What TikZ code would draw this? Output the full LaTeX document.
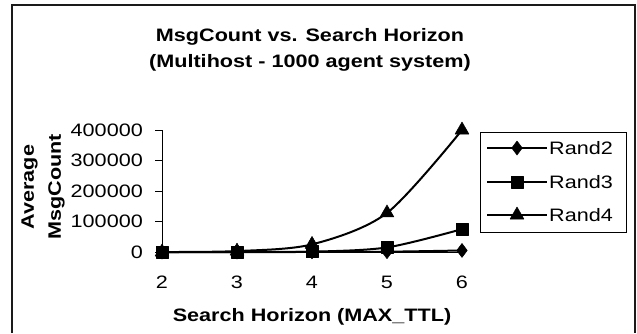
\documentclass[tikz,border=0pt]{standalone}
\usepackage{fontspec}
\setmainfont{Liberation Sans}[FakeStretch=1.2]
\usepackage{xcolor}
\usepackage{tikz}
\usetikzlibrary{plotmarks}
\definecolor{chartInk}{HTML}{000000}
\definecolor{chartFrame}{HTML}{1A1A1A}
\tikzset{
  charttitle/.style={font=\bfseries\fontsize{18}{26}\selectfont,align=center,inner sep=0pt},
  axislabel/.style={font=\bfseries\fontsize{18}{27}\selectfont,align=center,inner sep=0pt},
  ticklabel/.style={font=\fontsize{18}{21}\selectfont,inner sep=0pt},
  legendlabel/.style={font=\fontsize{18}{21}\selectfont,inner sep=0pt,anchor=west},
  series/.style={line width=2pt,draw=chartInk,line join=round},
  axisline/.style={line width=1pt,draw=chartInk},
  markdiamond/.style={mark=diamond*,mark size=7pt,mark options={solid,fill=chartInk,line width=0.5pt}},
  marksquare/.style={mark=square*,mark size=6pt,mark options={solid,fill=chartInk,line width=0.5pt}},
  marktriangle/.style={mark=triangle*,mark size=8pt,mark options={solid,fill=chartInk,line width=0.5pt}}
}

\begin{document}
\begin{tikzpicture}[x=1pt,y=-1pt]
  \useasboundingbox (0,0) rectangle (637,333);
  \draw[line width=1.2pt,draw=chartFrame] (12,333) -- (12,5) -- (635,5) -- (635,333);

  % title
  \node[charttitle] (title) at (310,50) {MsgCount vs. Search Horizon\\(Multihost - 1000 agent system)};

  % axes
  \draw[axisline] (162,130) -- (162,252) -- (461,252);
  \foreach \v/\lab [count=\i] in {0/0,100/100000,200/200000,300/300000,400/400000} {
    \draw[axisline] (155,252-0.305*\v) -- (162,252-0.305*\v);
    \node[ticklabel,anchor=east] (ytick\i) at (143,252-0.305*\v) {\lab};
  }
  \foreach \c [count=\i] in {2,...,6}
    \node[ticklabel] (xtick\i) at (162+75*\c-150,282) {\c};
  \node[axislabel,rotate=90] (ylabel) at (43,187) {Average\\MsgCount};
  \node[axislabel] (xlabel) at (312,317) {Search Horizon (MAX\_TTL)};

  % data, values in thousands
  \begin{scope}[shift={(162,252)},x=75pt,y=0.305pt]
    \draw[series,markdiamond] plot[smooth,tension=0.5] coordinates {(0,0) (1,0) (2,0.5) (3,1) (4,5)};
    \draw[series,marksquare] plot[smooth,tension=0.5] coordinates {(0,0) (1,0) (2,1) (3,15) (4,75)};
    \draw[series,marktriangle] plot[smooth,tension=0.5] coordinates {(0,0) (1,3) (2,25) (3,128) (4,400)};
  \end{scope}

  % legend
  \node[draw=chartInk,line width=1pt,minimum width=146pt,minimum height=100pt,anchor=north west] (legend) at (480,132) {};
  \draw[series,markdiamond] plot[mark indices={2}] coordinates {(487,148) (517,148) (547,148)};
  \node[legendlabel] (rand2) at (549,148) {Rand2};
  \draw[series,marksquare] plot[mark indices={2}] coordinates {(487,182) (517,182) (547,182)};
  \node[legendlabel] (rand3) at (549,182) {Rand3};
  \draw[series,marktriangle] plot[mark indices={2}] coordinates {(487,215) (517,215) (547,215)};
  \node[legendlabel] (rand4) at (549,215) {Rand4};
\end{tikzpicture}
\end{document}
